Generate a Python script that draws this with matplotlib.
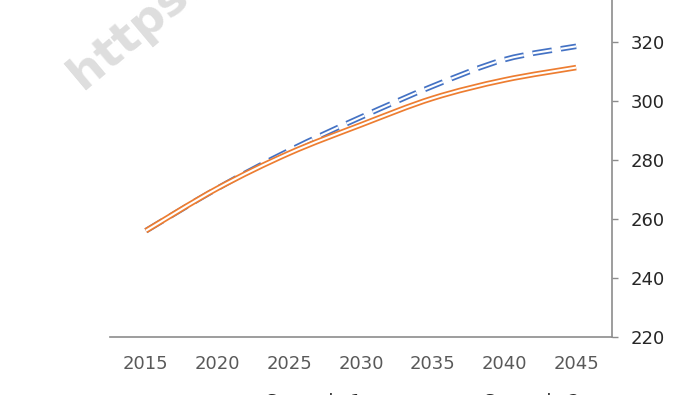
import matplotlib
matplotlib.use('Agg')
import matplotlib.pyplot as plt
import numpy as np
from matplotlib.lines import Line2D
from matplotlib.path import Path
from matplotlib.patches import PathPatch

plt.rcParams['lines.scale_dashes'] = False

years = [2015, 2020, 2025, 2030, 2035, 2040, 2045]
blue_vals = [256.0, 270.4, 283.2, 294.5, 305.0, 314.0, 318.5]
orange_vals = [256.0, 270.4, 282.3, 291.9, 300.9, 307.1, 311.3]
labels = ['Scenario 1', 'Scenario 2']
yticks = [220, 240, 260, 280, 300, 320]

BLUE = '#4472C4'
ORANGE = '#ED7D31'


def smooth_path(x, y):
    # excel-like smoothed line: catmull-rom segments as cubic beziers
    p = np.column_stack([x, y]).astype(float)
    ext = np.vstack([p[0], p, p[-1]])
    verts = [p[0]]
    codes = [Path.MOVETO]
    for i in range(len(p) - 1):
        p0, p1, p2, p3 = ext[i], ext[i + 1], ext[i + 2], ext[i + 3]
        verts += [p1 + (p2 - p0) / 6.0, p2 - (p3 - p1) / 6.0, p2]
        codes += [Path.CURVE4] * 3
    return Path(verts, codes)


def double_line(ax, x, y, color, dashes=None, z=2):
    path = smooth_path(x, y)
    ls = 'solid' if dashes is None else (0, dashes)
    for c, w in [(color, 4.0), ('white', 1.5)]:
        ax.add_patch(PathPatch(path, facecolor='none', edgecolor=c, lw=w,
                               linestyle=ls, capstyle='butt', zorder=z))


fig = plt.figure(figsize=(7.0, 3.95), dpi=100)
ax = fig.add_axes([110 / 700, 58 / 395, 502 / 700, 337 / 395])

double_line(ax, years, blue_vals, BLUE, dashes=(14, 6.5), z=2)
double_line(ax, years, orange_vals, ORANGE, z=3)

ax.set_xlim(2012.5, 2047.5)
ax.set_ylim(220, 334.2)
ax.set_xticks(years)
ax.set_yticks(yticks)

for s in ['top', 'left']:
    ax.spines[s].set_visible(False)
for s in ['bottom', 'right']:
    ax.spines[s].set_color('#8c8c8c')
    ax.spines[s].set_linewidth(1.2)

ax.yaxis.tick_right()
ax.tick_params(axis='y', direction='out', length=4.5, width=1.0, color='#8c8c8c',
               pad=9, labelsize=13, labelcolor='#262626')
ax.tick_params(axis='x', length=0, pad=13, labelsize=13, labelcolor='#595959')

# legend sits mostly below the visible area, only tops of the text show
handles = [Line2D([], [], color=BLUE, lw=3.6, dashes=(14, 6)),
           Line2D([], [], color=ORANGE, lw=3.6)]
fig.legend(handles, labels, loc='upper left', bbox_to_anchor=(190 / 700, 18 / 395),
           ncol=2, frameon=False, fontsize=13, labelcolor='#262626',
           columnspacing=3.5, handlelength=2.5)

# watermark
fig.text(60 / 700, 1 - 98 / 395, 'https://', rotation=40, fontsize=34,
         fontweight='bold', color='#dedede', ha='left', va='bottom', zorder=0)

fig.savefig('out.png', dpi=100)
